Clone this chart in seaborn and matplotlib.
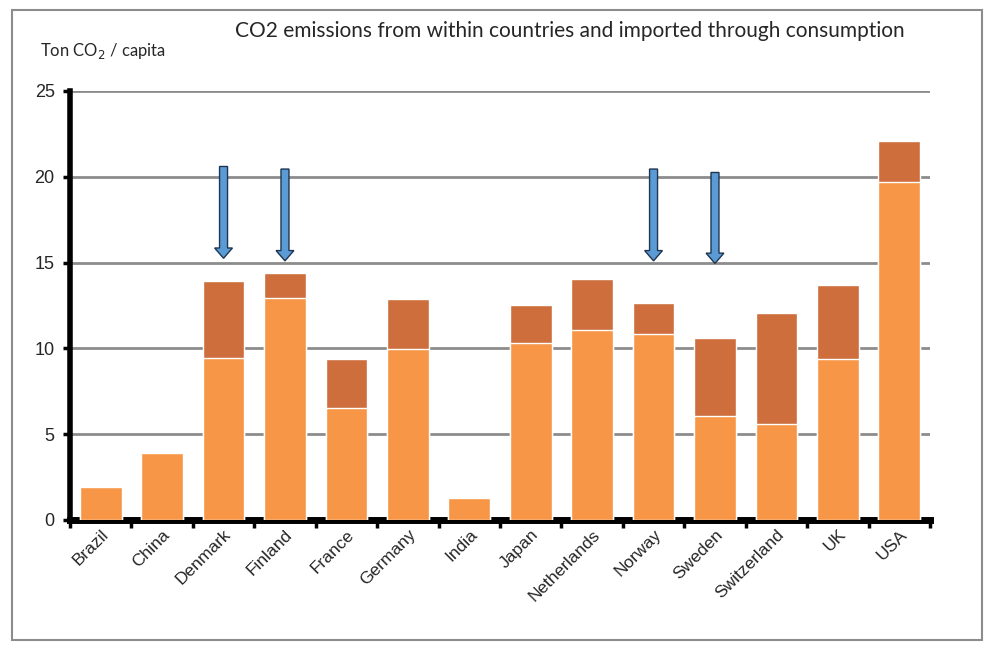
import matplotlib
matplotlib.use("Agg")
import matplotlib.pyplot as plt
from matplotlib.patches import FancyArrow, Rectangle
import numpy as np
import pandas as pd
import seaborn as sns

# values (ton CO2 per capita)
countries = ['Brazil', 'China', 'Denmark', 'Finland', 'France', 'Germany', 'India',
             'Japan', 'Netherlands', 'Norway', 'Sweden', 'Switzerland', 'UK', 'USA']
within = [1.9, 3.9, 9.45, 12.95, 6.55, 9.95, 1.3, 10.3, 11.1, 10.85, 6.05, 5.6, 9.4, 19.7]
total = [1.9, 3.9, 13.95, 14.4, 9.4, 12.85, 1.3, 12.55, 14.05, 12.65, 10.6, 12.05, 13.7, 22.1]

# arrows pointing at the nordic countries
arrow_countries = ['Denmark', 'Finland', 'Norway', 'Sweden']
arrow_top = [20.6, 20.45, 20.45, 20.25]
arrow_tip = [15.25, 15.1, 15.1, 14.95]

df = pd.DataFrame({'country': countries, 'within': within, 'total': total})

sns.set_style('white')
plt.rcParams['font.family'] = ['Liberation Sans', 'DejaVu Sans']

fig = plt.figure(figsize=(9.94, 6.54), dpi=100)
ax = fig.add_axes([0.0704, 0.2049, 0.8652, 0.656])

# total first (imported part shows above), then the within-country part on top
sns.barplot(data=df, x='country', y='total', color='#CD6E3C', saturation=1,
            width=0.68, edgecolor='white', linewidth=1, ax=ax, zorder=3)
sns.barplot(data=df, x='country', y='within', color='#F79646', saturation=1,
            width=0.68, edgecolor='white', linewidth=1, ax=ax, zorder=4)

ax.set_xlim(-0.5, 13.5)
ax.set_ylim(0, 25)
ax.set_yticks([0, 5, 10, 15, 20, 25])
ax.set_yticklabels(['0', '5', '10', '15', '20', '25'], fontsize=13)
ax.yaxis.grid(True, color='#8c8c8c', linewidth=2)
ax.set_axisbelow(True)

ax.set_xticks(range(len(countries)))
ax.set_xticklabels(countries, rotation=45, ha='right', rotation_mode='anchor', fontsize=12.5)
ax.set_xticks(np.arange(-0.5, 14, 1), minor=True)
ax.tick_params(axis='x', which='major', bottom=True, length=0, pad=5)
ax.tick_params(axis='x', which='minor', bottom=True, length=6, width=2.5,
               direction='out', color='black')
ax.tick_params(axis='y', left=True, length=5, width=2.5, direction='out', color='black', pad=6)

ax.set_xlabel('')
ax.set_ylabel('')
for s in ['top', 'right']:
    ax.spines[s].set_visible(False)
ax.spines['left'].set_linewidth(4)
ax.spines['bottom'].set_linewidth(5)
ax.spines['left'].set_color('black')
ax.spines['bottom'].set_color('black')

for c, y0, y1 in zip(arrow_countries, arrow_top, arrow_tip):
    x = countries.index(c)
    ax.add_patch(FancyArrow(x, y0, 0, y1 - y0, width=0.13, head_width=0.29,
                            head_length=0.6, length_includes_head=True,
                            facecolor='#5B9BD5', edgecolor='#1F3550', linewidth=1, zorder=6))

fig.text(0.573, 0.953, 'CO2 emissions from within countries and imported through consumption',
         ha='center', va='center', fontsize=15, family=['Lato', 'DejaVu Sans'])
fig.text(0.04, 0.922, 'Ton CO$_2$ / capita', ha='left', va='center', fontsize=12,
         family=['Lato', 'DejaVu Sans'])

# outer chart frame
fig.patches.append(Rectangle((0.012, 0.022), 0.976, 0.962, transform=fig.transFigure,
                             fill=False, edgecolor='#8c8c8c', linewidth=1.5))

fig.savefig('out.png', dpi=100)
